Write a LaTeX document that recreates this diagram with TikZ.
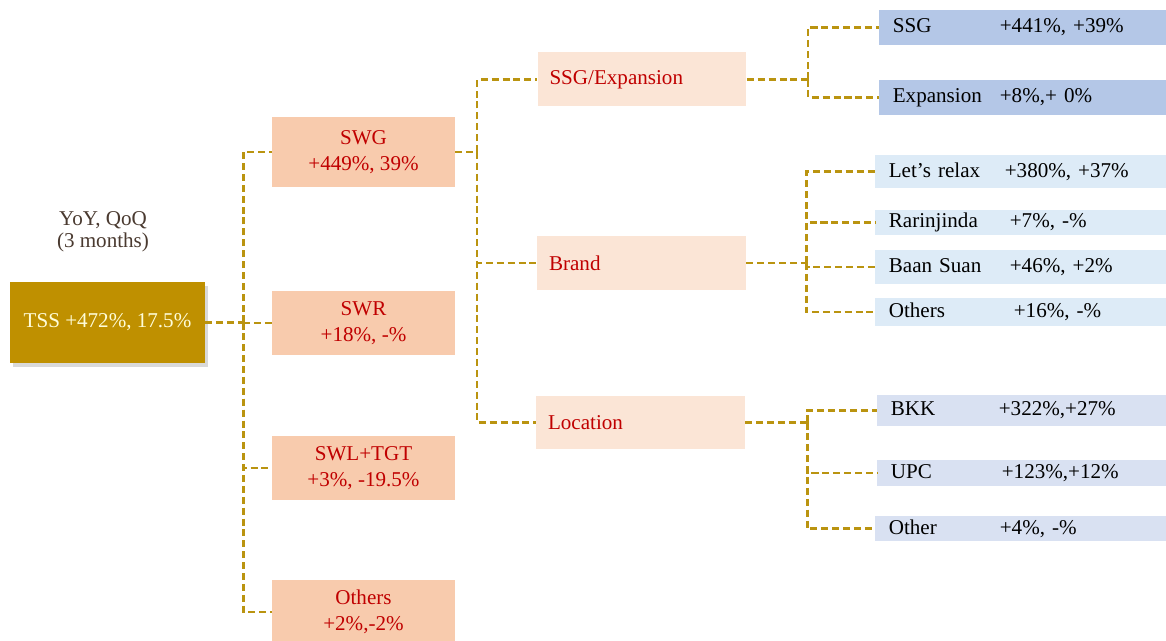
\documentclass[tikz,border=0pt]{standalone}
\usepackage{fontspec}
\setmainfont{Liberation Serif}
\usetikzlibrary{shadows}

\definecolor{tssgold}{HTML}{BF9000}
\definecolor{linegold}{HTML}{BA9410}
\definecolor{peach}{HTML}{F8CBAD}
\definecolor{lightpeach}{HTML}{FBE5D6}
\definecolor{blueA}{HTML}{B4C7E7}
\definecolor{blueB}{HTML}{DDEBF7}
\definecolor{blueC}{HTML}{D9E1F2}
\definecolor{darkred}{HTML}{C00000}
\definecolor{notebrown}{HTML}{4A3A30}

\begin{document}
\begin{tikzpicture}[x=0.02cm,y=-0.02cm,
                    every node/.style={font=\fontsize{12}{15}\selectfont}]
  \tikzstyle{conn}=[draw=linegold,line width=1.4pt,dash pattern=on 4pt off 2.2pt]
  \tikzstyle{top}=[fill=tssgold,text=yellow!15,minimum width=3.9cm,minimum height=1.62cm,
                   drop shadow={opacity=0.3,shadow xshift=1.5pt,shadow yshift=-2pt}]
  \tikzstyle{mid}=[fill=peach,text=darkred,align=center,minimum width=3.66cm,minimum height=1.3cm]
  \tikzstyle{cat}=[fill=lightpeach,text=darkred,text width=3.7cm,inner xsep=0.24cm,
                   align=left,minimum height=1.08cm]
  \tikzstyle{leaf}=[anchor=west,text width=5.4cm,inner xsep=0.27cm,inner ysep=0pt,align=left]

  \useasboundingbox (0,0) rectangle (1166,641);

  % root
  \node[top] (tss) at (107.5,322.5) {TSS +472\%, 17.5\%};
  \node[text=notebrown,align=center,font=\fontsize{12}{12.5}\selectfont] (yoy) at (103,232)
       {YoY, QoQ\\(3 months)};

  % first level
  \node[mid,minimum height=1.4cm] (swg) at (363.5,152) {SWG\\+449\%, 39\%};
  \node[mid]                      (swr) at (363.5,323) {SWR\\+18\%, -\%};
  \node[mid]                      (swl) at (363.5,468) {SWL+TGT\\+3\%, -19.5\%};
  \node[mid]                      (oth) at (363.5,612) {Others\\+2\%,-2\%};

  % second level
  \node[cat] (ssgexp) at (642,79.5)    {SSG/Expansion};
  \node[cat] (brand)  at (641.5,263)   {Brand};
  \node[cat] (loc)    at (640.5,422.5) {Location};

  % leaves
  \node[leaf,fill=blueA,minimum height=0.7cm]  (ssg)    at (879,27.5)  {\makebox[2.14cm][l]{SSG}+441\%, +39\%};
  \node[leaf,fill=blueA,minimum height=0.7cm]  (expn)   at (879,97.5)  {\makebox[2.14cm][l]{Expansion}+8\%,+ 0\%};
  \node[leaf,fill=blueB,minimum height=0.66cm] (relax)  at (875,171.5) {\makebox[2.32cm][l]{Let’s relax}+380\%, +37\%};
  \node[leaf,fill=blueB,minimum height=0.5cm]  (rarin)  at (875,222.5) {\makebox[2.42cm][l]{Rarinjinda}+7\%, -\%};
  \node[leaf,fill=blueB,minimum height=0.68cm] (baan)   at (875,267)   {\makebox[2.42cm][l]{Baan Suan}+46\%, +2\%};
  \node[leaf,fill=blueB,minimum height=0.56cm] (bothers) at (875,312)  {\makebox[2.5cm][l]{Others}+16\%, -\%};
  \node[leaf,fill=blueC,minimum height=0.62cm] (bkk)    at (877,410.5) {\makebox[2.16cm][l]{BKK}+322\%,+27\%};
  \node[leaf,fill=blueC,minimum height=0.52cm] (upc)    at (877,473)   {\makebox[2.22cm][l]{UPC}+123\%,+12\%};
  \node[leaf,fill=blueC,minimum height=0.5cm]  (lother) at (875,528.5) {\makebox[2.22cm][l]{Other}+4\%, -\%};

  % junctions
  \coordinate (j1) at (243.5,322.5);
  \coordinate (j2) at (477,152);
  \coordinate (j3) at (808,79.5);
  \coordinate (j4) at (806.5,263);
  \coordinate (j5) at (807.5,422.5);

  \draw[conn] (tss) -- (j1);
  \draw[conn] (j1) |- (swg);
  \draw[conn] (j1) |- (swr);
  \draw[conn] (j1) |- (swl);
  \draw[conn] (j1) |- (oth);

  \draw[conn] (swg) -- (j2);
  \draw[conn] (j2) |- (ssgexp);
  \draw[conn] (j2) |- (brand);
  \draw[conn] (j2) |- (loc);

  \draw[conn] (ssgexp) -- (j3);
  \draw[conn] (j3) |- (ssg);
  \draw[conn] (j3) |- (expn);

  \draw[conn] (brand) -- (j4);
  \draw[conn] (j4) |- (relax);
  \draw[conn] (j4) |- (rarin);
  \draw[conn] (j4) |- (baan);
  \draw[conn] (j4) |- (bothers);

  \draw[conn] (loc) -- (j5);
  \draw[conn] (j5) |- (bkk);
  \draw[conn] (j5) |- (upc);
  \draw[conn] (j5) |- (lother);
\end{tikzpicture}
\end{document}
